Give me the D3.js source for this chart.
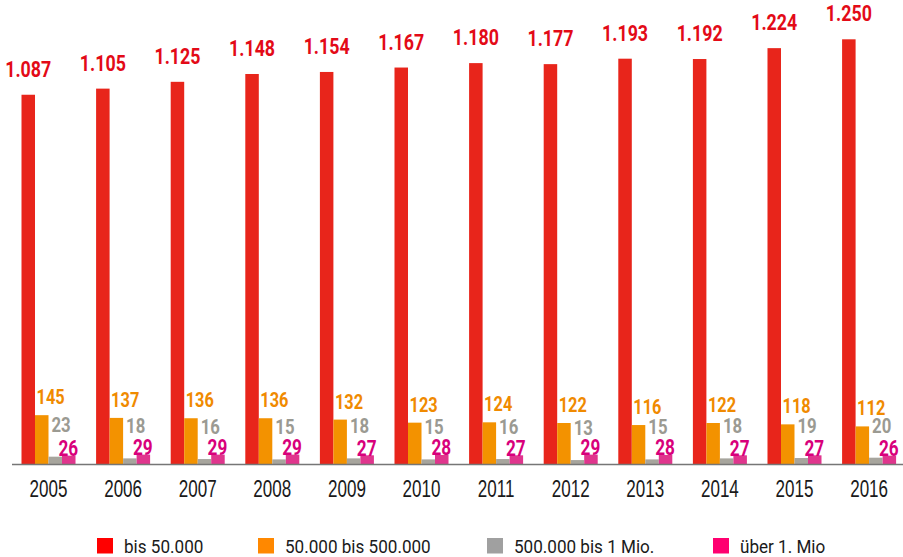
<!DOCTYPE html>
<html>
<head>
<meta charset="utf-8">
<script src="https://cdn.jsdelivr.net/npm/d3@7"></script>
<style>
	body { margin: 0; background: #fff; }
	svg { display: block; font-family: Roboto, "Liberation Sans", sans-serif; }
</style>
</head>
<body>
<script>
// DATA
var years = ["2005", "2006", "2007", "2008", "2009", "2010", "2011", "2012", "2013", "2014", "2015", "2016"]
var bis50k = [1087, 1105, 1125, 1148, 1154, 1167, 1180, 1177, 1193, 1192, 1224, 1250]
var bis500k = [145, 137, 136, 136, 132, 123, 124, 122, 116, 122, 118, 112]
var bis1mio = [23, 18, 16, 15, 18, 15, 16, 13, 15, 18, 19, 20]
var ueber1mio = [26, 29, 29, 29, 27, 28, 27, 29, 28, 27, 27, 26]
var seriesNames = ["bis 50.000", "50.000 bis 500.000", "500.000 bis 1 Mio.", "über 1. Mio"]

// CONFIG
var config = {
	width: 903,
	height: 557,
	baseline: 464.5,
	top: 39.3,
	bar: ["#e8251b", "#f39200", "#a7a59d", "#e0358d"],
	label: ["#e30a17", "#f08a00", "#9b9a92", "#d8007b"],
	legend: ["#ff0000", "#ff8800", "#a0a0a0", "#ff0070"],
	legendX: [97, 258, 487, 713],
	// no condensed font installed -> squeeze text horizontally
	labelSize: [22, 19.5, 19.5, 21.5],
	labelNarrow: [0.81, 0.84, 0.86, 0.8]
}

var series = [bis50k, bis500k, bis1mio, ueber1mio]

var svg = d3.select("body")
	.append("svg")
	.attr("width", config.width)
	.attr("height", config.height)

var x0 = d3.scaleBand()
	.domain(years)
	.range([21.5, 896.1])
	.paddingInner(0.276)
	.paddingOuter(0)

var x1 = d3.scaleBand()
	.domain(d3.range(series.length))
	.range([0, x0.bandwidth()])

var y = d3.scaleLinear()
	.domain([0, 1250])
	.range([config.baseline, config.top])

function squeeze(x, y, s) {
	return "translate(" + x + "," + y + ") scale(" + s + ",1)"
}

var groups = svg.selectAll("g.year")
	.data(years)
	.enter()
	.append("g")
	.attr("class", "year")
	.attr("transform", function (d) { return "translate(" + x0(d) + ",0)" })

// bars
groups.selectAll("rect")
	.data(function (d, i) { return series.map(function (s, k) { return { k: k, v: s[i] } }) })
	.enter()
	.append("rect")
	.attr("x", function (d) { return x1(d.k) })
	.attr("y", function (d) { return y(d.v) })
	.attr("width", x1.bandwidth())
	.attr("height", function (d) { return config.baseline - y(d.v) })
	.attr("fill", function (d) { return config.bar[d.k] })

// value labels (placed like the original, staggered to avoid overlap)
var fmt = function (v) { return d3.format(",")(v).replace(/,/g, ".") }
groups.selectAll("text.val")
	.data(function (d, i) { return series.map(function (s, k) { return { k: k, v: s[i] } }) })
	.enter()
	.append("text")
	.attr("class", "val")
	.attr("transform", function (d) {
		var lx, ly
		if (d.k == 0) { lx = x1(0) + x1.bandwidth() / 2; ly = y(d.v) - 18 }
		else if (d.k == 1) { lx = x1(1) + 1.5; ly = y(d.v) - 11 }
		else if (d.k == 2) { lx = x1(2) + 3; ly = y(d.v) - 25 }
		else { lx = x1(3) + x1.bandwidth() / 2 - 0.5; ly = y(d.v) + 0.5 }
		return squeeze(lx, ly, config.labelNarrow[d.k])
	})
	.attr("text-anchor", function (d) { return (d.k == 1 || d.k == 2) ? "start" : "middle" })
	.attr("font-size", function (d) { return config.labelSize[d.k] })
	.attr("font-weight", "bold")
	.attr("fill", function (d) { return config.label[d.k] })
	.text(function (d) { return fmt(d.v) })

// axis line
svg.append("line")
	.attr("x1", 12)
	.attr("x2", config.width)
	.attr("y1", config.baseline)
	.attr("y2", config.baseline)
	.attr("stroke", "#767676")
	.attr("stroke-width", 1.6)

var xAxis = d3.axisBottom(x0).tickSize(0).tickPadding(0)
var ax = svg.append("g")
	.attr("transform", "translate(0," + (config.baseline + 32.8) + ")")
	.call(xAxis)
ax.select(".domain").remove()
ax.selectAll("text")
	.attr("font-family", null)
	.attr("font-size", 24)
	.attr("fill", "#1a1a1a")
	.attr("dy", null)
	.attr("y", null)
	.attr("transform", squeeze(0, 0, 0.71))

// legend
var legend = svg.selectAll("g.legend")
	.data(seriesNames)
	.enter()
	.append("g")
	.attr("class", "legend")
	.attr("transform", function (d, i) { return "translate(" + config.legendX[i] + ",538)" })

legend.append("rect")
	.attr("width", 16)
	.attr("height", 15.5)
	.attr("fill", function (d, i) { return config.legend[i] })

legend.append("text")
	.attr("transform", squeeze(27, 15.3, 0.9))
	.attr("font-size", 19)
	.attr("fill", "#1a1a1a")
	.text(function (d) { return d })
</script>
</body>
</html>
